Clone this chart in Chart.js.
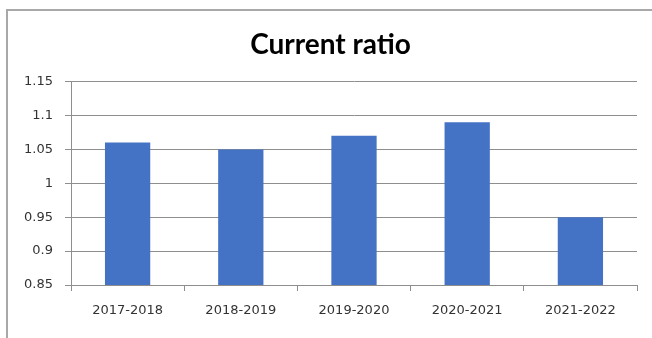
<!DOCTYPE html>
<html>
<head>
<meta charset="utf-8">
<script src="https://cdn.jsdelivr.net/npm/chart.js@4"></script>
<style>
  html, body { margin: 0; padding: 0; background: #fff; }
  #wrap { position: relative; width: 652px; height: 338px; overflow: hidden; }
  #frame { position: absolute; left: 6px; top: 9px; width: 700px; height: 400px;
           border-top: 2px solid #a8a8a8; border-left: 2px solid #a8a8a8; pointer-events: none; }
</style>
</head>
<body>
<div id="wrap">
  <canvas id="ratio-chart" width="652" height="338"></canvas>
  <div id="frame"></div>
</div>
<script>
// Chart data
const periods = ["2017-2018", "2018-2019", "2019-2020", "2020-2021", "2021-2022"];
const currentRatio = [1.06, 1.05, 1.07, 1.09, 0.95];
const yTicks = [0.85, 0.9, 0.95, 1, 1.05, 1.1, 1.15];

const gridGray = "#8e8e8e";

const ctx = document.getElementById("ratio-chart");
new Chart(ctx, {
    type: "bar",
    data: {
        labels: periods,
        datasets: [{
            label: "Current ratio",
            data: currentRatio,
            backgroundColor: "#4472c4",
            borderWidth: 0,
            barPercentage: 0.4,
            categoryPercentage: 1
        }]
    },
    options: {
        responsive: false,
        animation: false,
        // left padding nudges the centred title to where it sits in the original
        layout: { padding: { left: 24, right: 15, top: 0, bottom: 0 } },
        plugins: {
            legend: { display: false },
            tooltip: { enabled: false },
            title: {
                display: true,
                text: "Current ratio",
                color: "#000",
                font: { family: "Lato", size: 28, weight: "bold", lineHeight: 1.2 },
                padding: { top: 28, bottom: 20 }
            }
        },
        scales: {
            x: {
                grid: { display: true, drawOnChartArea: false, tickLength: 6, color: gridGray, offset: true },
                border: { color: gridGray, width: 1 },
                ticks: {
                    color: "#333",
                    font: { family: "DejaVu Sans", size: 13 },
                    padding: 12,
                    maxRotation: 0
                },
                afterFit: function(scale) { scale.height = 53; }
            },
            y: {
                min: yTicks[0],
                max: yTicks[yTicks.length - 1],
                afterBuildTicks: function(scale) {
                    scale.ticks = yTicks.map(v => ({ value: v }));
                },
                grid: { color: gridGray, tickLength: 6, lineWidth: 1 },
                border: { color: gridGray, width: 1 },
                ticks: {
                    color: "#333",
                    font: { family: "DejaVu Sans", size: 13 },
                    padding: 12,
                    callback: function(value) { return String(parseFloat(value.toFixed(2))); }
                },
                afterFit: function(scale) { scale.width = 47; }
            }
        }
    }
});
</script>
</body>
</html>
